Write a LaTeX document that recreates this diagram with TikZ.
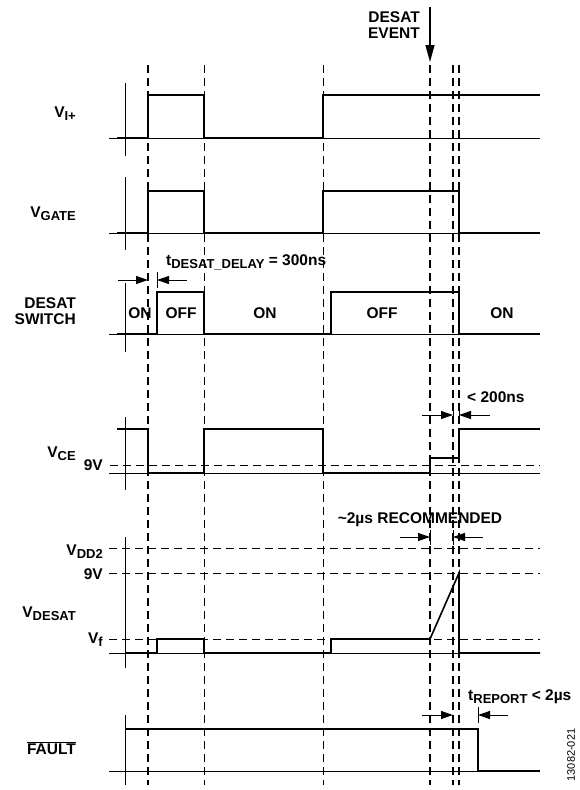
\documentclass[tikz,border=0pt]{standalone}
\usepackage{fontspec}
\setmainfont{Liberation Sans}
\usetikzlibrary{arrows.meta}

\newcommand{\lowtxt}[1]{\raisebox{-3pt}{\fontsize{13}{13}\selectfont #1}}

\begin{document}
\begin{tikzpicture}[x=1pt,y=-1pt,
  lbl/.style={font=\fontsize{15.5}{16}\selectfont\bfseries, inner sep=0pt},
  sig/.style={line width=1.6pt},
  axis/.style={line width=0.8pt},
  markthick/.style={line width=1.5pt, dash pattern=on 8pt off 5pt},
  markthin/.style={line width=0.8pt, dash pattern=on 8pt off 5pt},
  levelline/.style={line width=0.8pt, dash pattern=on 8pt off 5pt},
  dimarrow/.style={line width=1pt, -{Triangle[length=12pt,width=8pt]}}]

\useasboundingbox (0,0) rectangle (580,790);

% time markers
\draw[markthick] (148,65) -- (148,785);
\draw[markthin]  (204,65) -- (204,785);
\draw[markthin]  (323,65) -- (323,785);
\draw[markthick] (430,65) -- (430,785);
\draw[markthick] (453,65) -- (453,785);
\draw[markthick] (459,65) -- (459,785);

% desat event
\node[lbl, anchor=east, align=right] (evt) at (420,25) {DESAT\\EVENT};
\draw[line width=1.3pt, -{Triangle[length=17pt,width=9pt]}] (430,7) -- (430,62);

% V_I+
\node[lbl, anchor=base east] (vin) at (76,117) {V\lowtxt{I+}};
\draw[axis] (125,83) -- (125,156);
\draw[axis] (109,138) -- (540,138);
\draw[sig] (117,138) -- (148,138) -- (148,95) -- (204,95) -- (204,138) -- (323,138) -- (323,95) -- (540,95);

% V_GATE
\node[lbl, anchor=base east] (vgate) at (76,217) {V\lowtxt{GATE}};
\draw[axis] (125,177) -- (125,250);
\draw[axis] (109,233) -- (540,233);
\draw[sig] (117,233) -- (148,233) -- (148,191) -- (204,191) -- (204,233) -- (323,233) -- (323,191) -- (459,191) -- (459,233) -- (540,233);

% DESAT switch
\node[lbl, anchor=east, align=right] (sw) at (76,311.5) {DESAT\\SWITCH};
\draw[axis] (125,283) -- (125,352);
\draw[axis] (109,334) -- (540,334);
\draw[sig] (117,334) -- (157,334) -- (157,292) -- (204,292) -- (204,334) -- (331,334) -- (331,292) -- (459,292) -- (459,334) -- (540,334);
\node[lbl] (on1) at (140,313) {ON};
\node[lbl] (off1) at (181,313) {OFF};
\node[lbl] (on2) at (265,313) {ON};
\node[lbl] (off2) at (382,313) {OFF};
\node[lbl] (on3) at (502,313) {ON};
\draw[axis] (157,272) -- (157,288);
\draw[dimarrow] (118,280) -- (148,280);
\draw[dimarrow] (187,280) -- (157,280);
\node[lbl, anchor=base west] (tdel) at (166,265) {t\lowtxt{DESAT\_DELAY} = 300ns};

% V_CE
\node[lbl, anchor=base east] (vce) at (76,457) {V\lowtxt{CE}};
\node[lbl, anchor=base east] (vce9) at (103,470) {9V};
\draw[levelline] (110,465) -- (540,465);
\draw[axis] (125,417) -- (125,490);
\draw[axis] (109,473) -- (540,473);
\draw[sig] (117,429) -- (148,429) -- (148,473) -- (204,473) -- (204,429) -- (323,429) -- (323,473) -- (430,473) -- (430,458) -- (459,458) -- (459,429) -- (540,429);
\draw[axis] (453,405) -- (453,423);
\draw[axis] (459,405) -- (459,423);
\draw[dimarrow] (422,415) -- (453,415);
\draw[dimarrow] (490,415) -- (459,415);
\node[lbl, anchor=base west] (t200) at (467,402) {< 200ns};

% V_DESAT
\node[lbl, anchor=base east] (vdesat) at (76,617) {V\lowtxt{DESAT}};
\node[lbl, anchor=base east] (vdd2) at (103,555) {V\lowtxt{DD2}};
\node[lbl, anchor=base east] (v9) at (103,579) {9V};
\node[lbl, anchor=base east] (vf) at (103,643) {V\lowtxt{f}};
\draw[levelline] (109,548) -- (540,548);
\draw[levelline] (109,573) -- (540,573);
\draw[levelline] (109,639) -- (540,639);
\draw[axis] (125,537) -- (125,668);
\draw[axis] (109,653) -- (540,653);
\draw[sig] (125,653) -- (157,653) -- (157,639) -- (204,639) -- (204,653) -- (331,653) -- (331,639) -- (430,639) -- (459,573) -- (459,653) -- (540,653);
\draw[axis] (430,530) -- (430,545);
\draw[axis] (453,530) -- (453,545);
\draw[dimarrow] (400,537) -- (430,537);
\draw[dimarrow] (483,537) -- (453,537);
\node[lbl, anchor=base] (trec) at (420,523) {\textasciitilde2µs RECOMMENDED};

% FAULT
\node[lbl, anchor=base east] (flt) at (76,754) {$\overline{\hbox{FAULT}}$};
\draw[axis] (125,715) -- (125,785);
\draw[axis] (109,771) -- (540,771);
\draw[sig] (125,729) -- (478,729) -- (478,771) -- (540,771);
\draw[axis] (478,707) -- (478,723);
\draw[dimarrow] (422,715) -- (453,715);
\draw[dimarrow] (508,715) -- (478,715);
\node[lbl, anchor=base west] (trep) at (468,700) {t\lowtxt{REPORT} < 2µs};

\node[rotate=90, font=\fontsize{11}{11}\selectfont, inner sep=0pt] (fig) at (571,755) {13082-021};
\end{tikzpicture}
\end{document}
